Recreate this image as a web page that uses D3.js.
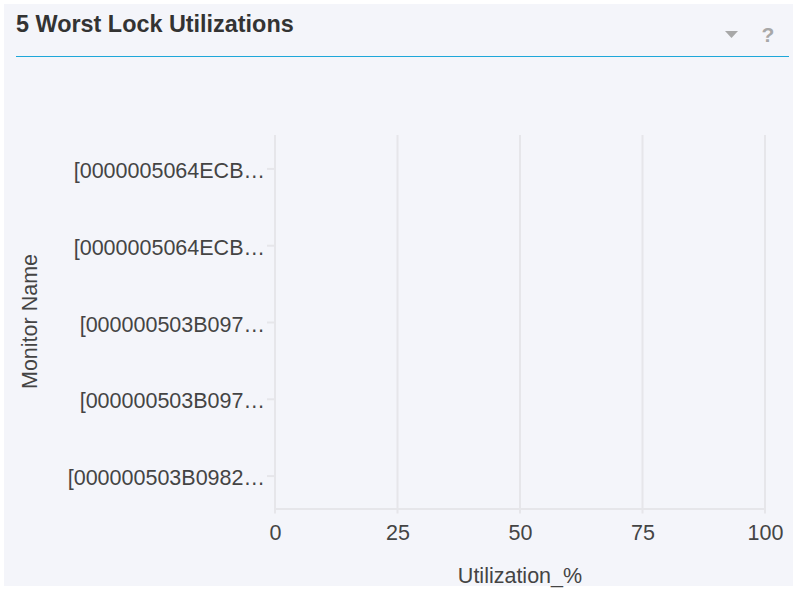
<!DOCTYPE html>
<html>
<head>
<meta charset="utf-8">
<script src="https://cdn.jsdelivr.net/npm/d3@7/dist/d3.min.js"></script>
<style>
  html, body { margin: 0; padding: 0; background: #ffffff; }
  svg { display: block; }
</style>
</head>
<body>
<svg id="chart" width="797" height="590"></svg>
<script>
// Monitor names (shown truncated) and their lock utilization
const monitors = [
  "[0000005064ECB…",
  "[0000005064ECB…",
  "[000000503B097…",
  "[000000503B097…",
  "[000000503B0982…"
];
const utilization = [0, 0, 0, 0, 0];
const xTicks = [0, 25, 50, 75, 100];

const title = "5 Worst Lock Utilizations";
const xTitle = "Utilization_%";
const yTitle = "Monitor Name";

const W = 797, H = 590;
const svg = d3.select("#chart");
const font = "Liberation Sans, Arial, Helvetica, sans-serif";
const textColor = "#444444";
const gridColor = "#e6e6ea";

// panel
svg.append("rect").attr("x", 4).attr("y", 4).attr("width", W - 8).attr("height", H - 8)
  .attr("fill", "#f4f5fa");

// header
svg.append("text").attr("x", 16).attr("y", 32)
  .attr("font-family", font)
  .attr("font-weight", "bold").attr("font-size", 23.4).attr("fill", "#333333")
  .text(title);
svg.append("line").attr("x1", 16).attr("x2", 789).attr("y1", 56.5).attr("y2", 56.5)
  .attr("stroke", "#1ea7d9").attr("stroke-width", 1.2);
svg.append("path").attr("d", "M725,31 L738,31 L731.5,38 Z").attr("fill", "#a8a8a8");
svg.append("text").attr("x", 768).attr("y", 42).attr("text-anchor", "middle")
  .attr("font-family", font).attr("font-weight", "bold")
  .attr("font-size", 21).attr("fill", "#a8a8a8").text("?");

// scales
const plotLeft = 275, plotRight = 765, gridTop = 135, axisY = 508.5;
const x = d3.scaleLinear().domain([0, 100]).range([plotLeft, plotRight]);
const y = d3.scalePoint().domain(d3.range(monitors.length)).range([130, 514]).padding(0.5);
const band = y.step() * 0.6;

// vertical grid lines
svg.append("g").selectAll("line").data(xTicks).join("line")
  .attr("x1", d => x(d)).attr("x2", d => x(d))
  .attr("y1", gridTop).attr("y2", axisY + 5)
  .attr("stroke", gridColor).attr("stroke-width", 2);

// x axis
const xAxis = svg.append("g").attr("transform", `translate(0,${axisY})`)
  .call(d3.axisBottom(x).tickValues(xTicks).tickSize(0).tickPadding(16));
xAxis.select(".domain").attr("stroke", gridColor).attr("stroke-width", 2);
xAxis.selectAll("text").attr("font-family", font).attr("font-size", 21.5).attr("fill", textColor);

// y axis
const yAxis = svg.append("g").attr("transform", `translate(${plotLeft},0)`)
  .call(d3.axisLeft(y).tickFormat(i => monitors[i]).tickSize(8).tickPadding(2));
yAxis.select(".domain").remove();
yAxis.selectAll(".tick line").attr("stroke", gridColor).attr("stroke-width", 2);
yAxis.selectAll("text").attr("font-family", font).attr("font-size", 21.5)
  .attr("dy", "0.42em").attr("fill", textColor);

// bars
svg.append("g").selectAll("rect").data(utilization).join("rect")
  .attr("x", x(0)).attr("y", (d, i) => y(i) - band / 2)
  .attr("width", d => x(d) - x(0)).attr("height", band)
  .attr("fill", "#1ea7d9");

// axis titles
svg.append("text").attr("x", 520).attr("y", 583)
  .attr("text-anchor", "middle").attr("font-family", font).attr("font-size", 21.5)
  .attr("fill", textColor).text(xTitle);
svg.append("text").attr("transform", `translate(37,321.5) rotate(-90)`)
  .attr("text-anchor", "middle").attr("font-family", font).attr("font-size", 21.5)
  .attr("fill", textColor).text(yTitle);
</script>
</body>
</html>
